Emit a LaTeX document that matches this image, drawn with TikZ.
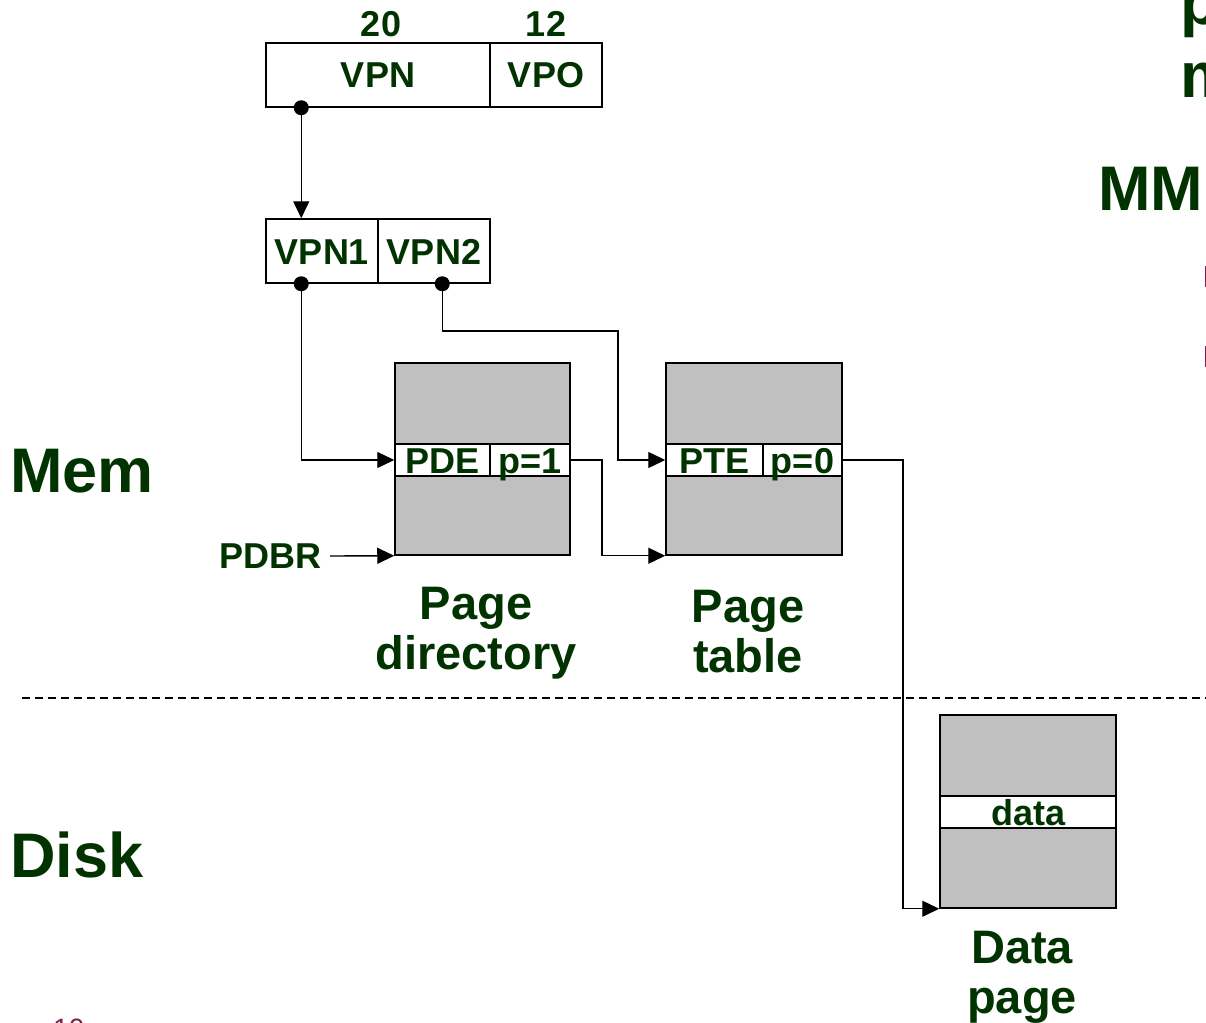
\documentclass[tikz,border=0pt]{standalone}
\usepackage{fontspec}
\setmainfont{Liberation Sans}
\usetikzlibrary{arrows.meta,calc}
\definecolor{dkgreen}{RGB}{0,51,0}
\definecolor{boxgray}{RGB}{192,192,192}
\definecolor{plum}{RGB}{128,32,80}
\tikzset{
  lbl/.style={font=\bfseries\fontsize{36}{40}\selectfont, text=dkgreen},
  cellbox/.style={draw=black, line width=1.5pt, fill=white, inner sep=0pt,
    text height=26pt, text depth=0pt, lbl},
  pagebox/.style={draw=black, line width=1.5pt, fill=boxgray, inner sep=0pt},
  biglbl/.style={font=\bfseries\fontsize{47}{50}\selectfont, text=dkgreen, align=center, inner sep=0pt},
  hugelbl/.style={font=\bfseries\fontsize{63}{70}\selectfont, text=dkgreen, inner sep=0pt},
  conn/.style={line width=1.4pt, draw=black},
  arr/.style={conn, -{Triangle[length=17pt,width=16pt]}},
  dot/.style={circle, fill=black, inner sep=0pt, minimum size=15pt},
}
\begin{document}
\begin{tikzpicture}[x=1pt,y=-1pt]
\useasboundingbox (0,0) rectangle (1206,1022);
\clip (0,0) rectangle (1206,1022);
\fill[white] (0,0) rectangle (1206,1022);

% virtual address
\node[cellbox, minimum width=224pt, minimum height=64pt] (vpn) at (378,75) {VPN};
\node[cellbox, minimum width=112pt, minimum height=64pt] (vpo) at (546,75) {VPO};
\node[lbl, anchor=base] (w20) at (381,37) {20};
\node[lbl, anchor=base] (w12) at (546,37) {12};

% split VPN
\node[cellbox, minimum width=112pt, minimum height=64pt] (vpnone) at (322,251) {VPN1};
\node[cellbox, minimum width=112pt, minimum height=64pt] (vpntwo) at (434,251) {VPN2};

% page directory
\node[pagebox, minimum width=175pt, minimum height=192pt] (pd) at (482.5,459) {};
\node[cellbox, minimum width=95pt, minimum height=32pt] (pde) at (442.5,460) {PDE};
\node[cellbox, minimum width=80pt, minimum height=32pt] (pone) at (530,460) {p=1};
\node[biglbl, anchor=north] (pdlbl) at (476,587) {Page\\directory};

% page table
\node[pagebox, minimum width=176pt, minimum height=192pt] (pt) at (754,459) {};
\node[cellbox, minimum width=97pt, minimum height=32pt] (pte) at (714.5,460) {PTE};
\node[cellbox, minimum width=79pt, minimum height=32pt] (pzero) at (802.5,460) {p=0};
\node[biglbl, anchor=north] (ptlbl) at (748,590) {Page\\table};

% data page
\node[pagebox, minimum width=176pt, minimum height=193pt] (dp) at (1028,811.5) {};
\node[cellbox, minimum width=176pt, minimum height=32pt] (datarow) at (1028,812) {data};
\node[biglbl, anchor=north] (dplbl) at (1022,931) {Data\\page};

% PDBR
\node[lbl, anchor=east, inner sep=0pt] (pdbr) at (322,556) {PDBR};

% mem / disk
\node[hugelbl, anchor=base west] (mem) at (10,492) {Mem};
\node[hugelbl, anchor=base west] (disk) at (10,877) {Disk};
\draw[line width=1.4pt, dash pattern=on 8pt off 5pt] (22,698) -- (1206,698);

% connectors
\node[dot] (d1) at ($(vpn.south west)+(36,0)$) {};
\node[dot] (d2) at ($(vpnone.south west)+(36,0)$) {};
\node[dot] (d3) at ($(vpntwo.south west)+(65,0)$) {};
\coordinate (j1) at (618,331);
\coordinate (j2) at (602,460);
\coordinate (j3) at (903,460);

\draw[arr] (d1.center) -- (d1.center |- vpnone.north);
\draw[arr] (d2.center) |- (pde.west);
\draw[arr] (d3.center) |- (j1) |- (pte.west);
\draw[arr] (pone.east) -- (j2) |- (pt.south west);
\draw[arr] ([xshift=8pt]pdbr.east) -- (pd.south west);
\draw[arr] (pzero.east) -- (j3) |- (dp.south west);

% cut-off slide text on the right and bottom
\node[font=\bfseries\fontsize{64}{70}\selectfont, text=dkgreen, inner sep=0pt, anchor=base west] (rp) at (1180,25) {p};
\node[font=\bfseries\fontsize{64}{70}\selectfont, text=dkgreen, inner sep=0pt, anchor=base west] (rm) at (1180,98) {m};
\node[hugelbl, anchor=base west] (mm) at (1098,210) {MM};
\fill[plum] (1205,266) rectangle (1216,287);
\fill[plum] (1205,346) rectangle (1216,367);
\node[font=\fontsize{28}{30}\selectfont, text=plum, inner sep=0pt, anchor=base west] (pgnum) at (53,1038) {10};
\end{tikzpicture}
\end{document}
